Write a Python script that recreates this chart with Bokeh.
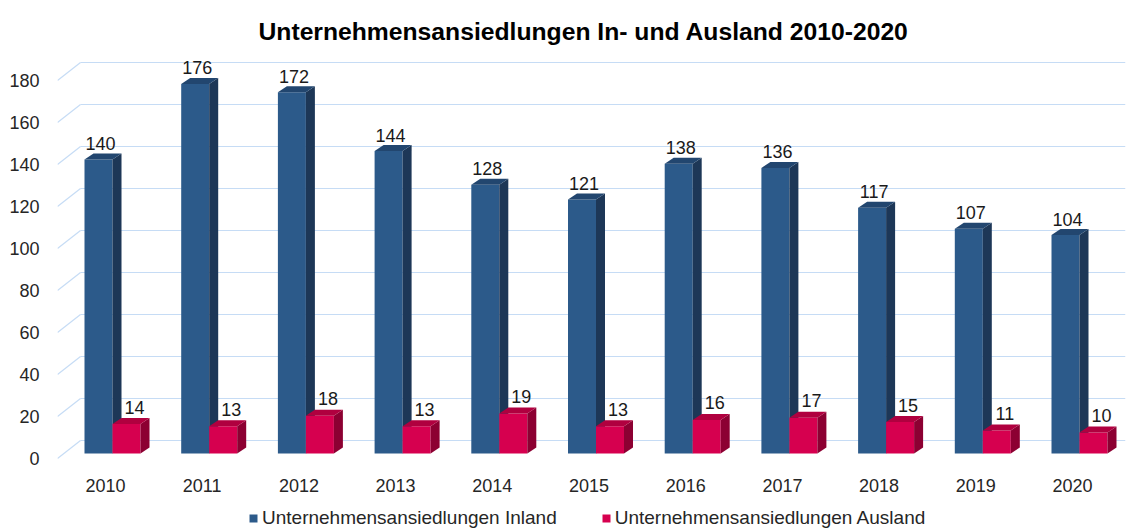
from bokeh.plotting import figure
from bokeh.layouts import column
from bokeh.models import FixedTicker, Legend, LegendItem
from bokeh.embed import file_html
from bokeh.resources import INLINE
from bokeh.core.properties import value

# ---- data ----
years = ["2010", "2011", "2012", "2013", "2014", "2015", "2016", "2017", "2018", "2019", "2020"]
inland = [140, 176, 172, 144, 128, 121, 138, 136, 117, 107, 104]
ausland = [14, 13, 18, 13, 19, 13, 16, 17, 15, 11, 10]
y_ticks = [0, 20, 40, 60, 80, 100, 120, 140, 160, 180]
series_names = ["Unternehmensansiedlungen Inland", "Unternehmensansiedlungen Ausland"]

# ---- style (3D look) ----
FONT = "Liberation Sans"
PX_X = 96.7          # pixels per category
PX_Y = 2.1           # pixels per unit
bar_w = 28 / PX_X
split = 7 / PX_X     # blue/red boundary relative to category centre
bdx, bdy = 9 / PX_X, 6 / PX_Y      # bar depth offset
gdx, gdy = 23 / PX_X, 18 / PX_Y    # grid depth offset
base = 5 / PX_Y                    # bar floor offset

blue = dict(front="#2c5a8a", side="#1d3757", top="#22466f")
red = dict(front="#d6004f", side="#8c0032", top="#b0003f")

x_min, x_max = -48 / PX_X, 1020 / PX_X
y_min, y_max = -12 / PX_Y, 408 / PX_Y

p = figure(width=1140, height=499, output_backend="svg", toolbar_location=None,
           x_range=(x_min, x_max), y_range=(y_min, y_max),
           min_border_left=57, min_border_right=15, min_border_top=50, min_border_bottom=29,
           title="Unternehmensansiedlungen In- und Ausland 2010-2020")
p.outline_line_color = None
p.background_fill_color = "white"
p.border_fill_color = "white"
p.grid.visible = False

p.title.align = "left"
p.title.offset = 201
p.title.vertical_align = "top"
p.title.text_font = FONT
p.title.text_font_size = "24.7px"
p.title.text_font_style = "bold"
p.title.text_color = "black"
p.title.standoff = 8

# axes
xs = list(range(len(years)))
p.xaxis.ticker = FixedTicker(ticks=xs)
p.xaxis.major_label_overrides = {i: y for i, y in zip(xs, years)}
p.yaxis.ticker = FixedTicker(ticks=y_ticks)
for ax in (p.xaxis, p.yaxis):
    ax.axis_line_color = None
    ax.major_tick_line_color = None
    ax.minor_tick_line_color = None
    ax.major_label_text_font = FONT
    ax.major_label_text_font_size = "18px"
    ax.major_label_text_color = "#262626"
p.xaxis.major_label_standoff = 2
p.yaxis.major_label_standoff = 12

# 3D gridlines: diagonal from front-left + horizontal back line
grid_color = "#c6dcf5"
gx0 = x_min
p.segment(x0=[gx0] * len(y_ticks), y0=y_ticks, x1=[gx0 + gdx] * len(y_ticks),
          y1=[t + gdy for t in y_ticks], line_color=grid_color, line_width=1.2)
p.segment(x0=[gx0 + gdx] * len(y_ticks), y0=[t + gdy for t in y_ticks],
          x1=[x_max] * len(y_ticks), y1=[t + gdy for t in y_ticks],
          line_color=grid_color, line_width=1.2)


def bars(vals, lefts, colors):
    rights = [l + bar_w for l in lefts]
    tops = [base + v for v in vals]
    front = p.quad(left=lefts, right=rights, bottom=[base] * len(vals), top=tops,
                   fill_color=colors["front"], line_color=None)
    side_x = [[r, r + bdx, r + bdx, r] for r in rights]
    side_y = [[base, base + bdy, t + bdy, t] for t in tops]
    p.patches(side_x, side_y, fill_color=colors["side"], line_color=None)
    top_x = [[l, l + bdx, r + bdx, r] for l, r in zip(lefts, rights)]
    top_y = [[t, t + bdy, t + bdy, t] for t in tops]
    p.patches(top_x, top_y, fill_color=colors["top"], line_color=None)
    return front


# draw per category so that red covers the side of blue
blue_lefts = [i + split - bar_w for i in xs]
red_lefts = [i + split for i in xs]
for i in xs:
    bars([inland[i]], [blue_lefts[i]], blue)
    bars([ausland[i]], [red_lefts[i]], red)

# data labels
lab_off = 10 / PX_Y
p.text(x=[l + bar_w / 2 + 2 / PX_X for l in blue_lefts],
       y=[base + v + bdy + lab_off for v in inland],
       text=[str(v) for v in inland], text_align="center", text_baseline="alphabetic",
       text_font=value(FONT), text_font_size="18px", text_color="#1a1a1a")
p.text(x=[l + bar_w / 2 + 8 / PX_X for l in red_lefts],
       y=[base + v + bdy + lab_off + 1 / PX_Y for v in ausland],
       text=[str(v) for v in ausland], text_align="center", text_baseline="alphabetic",
       text_font=value(FONT), text_font_size="18px", text_color="#1a1a1a")

# ---- legend strip ----
lf = figure(width=1140, height=30, output_backend="svg", toolbar_location=None,
            x_range=(0, 1), y_range=(0, 1), min_border=0)
lf.axis.visible = False
lf.grid.visible = False
lf.outline_line_color = None
# legend swatches (kept outside the visible range of the strip)
lb = lf.quad(left=[5], right=[6], bottom=[5], top=[6], fill_color=blue["front"], line_color=None)
lr = lf.quad(left=[5], right=[6], bottom=[5], top=[6], fill_color=red["front"], line_color=None)
legend = Legend(items=[LegendItem(label=series_names[0], renderers=[lb]),
                       LegendItem(label=series_names[1], renderers=[lr])],
                orientation="horizontal", location=(191, 0),
                label_text_font=FONT, label_text_font_size="19px", label_text_color="#262626",
                glyph_width=10, glyph_height=10, label_standoff=4, spacing=44,
                padding=0, margin=0, border_line_color=None, background_fill_alpha=0,
                label_height=18)
lf.add_layout(legend)

open("out.html", "w").write(file_html(column(p, lf, spacing=0), INLINE))
